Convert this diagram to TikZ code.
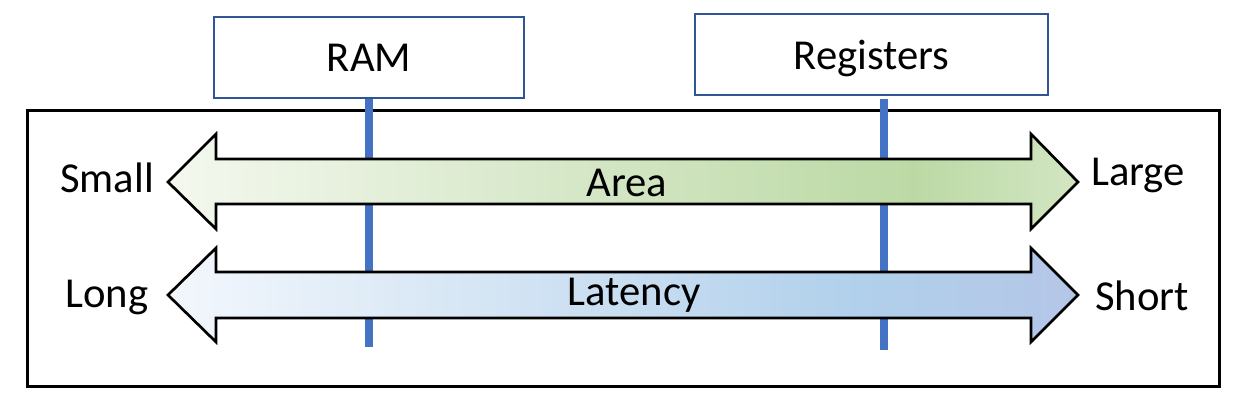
\documentclass[tikz,border=0pt]{standalone}
\usepackage{fontspec}
\setmainfont{Carlito}
\usetikzlibrary{positioning}
\definecolor{boxblue}{HTML}{2F5597}
\definecolor{lineblue}{HTML}{4472C4}
\definecolor{areaL}{HTML}{F4F8EF}
\definecolor{areaM}{HTML}{BCD9A5}
\definecolor{areaR}{HTML}{D2E6C2}
\definecolor{latL}{HTML}{F3F7FC}
\definecolor{latM}{HTML}{B1D0EB}
\definecolor{latR}{HTML}{B4C6E7}
\pgfdeclarehorizontalshading{areashade}{100bp}{color(0bp)=(areaL); color(25bp)=(areaL); color(66bp)=(areaM); color(75bp)=(areaR); color(100bp)=(areaR)}
\pgfdeclarehorizontalshading{latshade}{100bp}{color(0bp)=(latL); color(25bp)=(latL); color(63bp)=(latM); color(75bp)=(latR); color(100bp)=(latR)}
\tikzset{
    lbl/.style={font=\fontsize{32}{38}\selectfont, inner sep=0pt},
    membox/.style={draw=boxblue, line width=1.5pt, minimum height=61pt, lbl},
    marker/.style={draw=lineblue, line width=6pt},
    bigarrow/.style={draw=black, line width=2pt, line join=miter}
}
\begin{document}
\begin{tikzpicture}[x=0.75pt,y=-0.75pt]
    \useasboundingbox (0,0) rectangle (1248,416);
    \node[draw, line width=1.6pt, minimum width=894pt, minimum height=207pt, inner sep=0pt] (frame) at (623.5,248.5) {};
    \node[membox, minimum width=232pt] (ram) at (369,57.5) {RAM};
    \node[membox, minimum width=265pt, text depth=0pt] (reg) at (871.5,54.5) {Registers};
    \coordinate (ramend) at (369,347);
    \coordinate (regend) at (884,350);
    \draw[marker] (ram.south) -- (ramend);
    \draw[marker] (ram.south -| regend) -- (regend);
    % area arrow
    \path[bigarrow, shading=areashade]
        (168,182) -- (216,134) -- (216,159) -- (1031,159) -- (1031,134)
        -- (1078,182) -- (1031,229) -- (1031,204) -- (216,204) -- (216,229) -- cycle;
    % latency arrow
    \path[bigarrow, shading=latshade]
        (168,295) -- (216,248) -- (216,272) -- (1031,272) -- (1031,248)
        -- (1078,295) -- (1031,342) -- (1031,318) -- (216,318) -- (216,342) -- cycle;
    \node[lbl] (area) at (627,183) {Area};
    \node[lbl] (latency) at (634,295) {Latency};
    \node[lbl] (small) at (107,178) {Small};
    \node[lbl] (large) at (1138,175) {Large};
    \node[lbl] (long) at (107,297) {Long};
    \node[lbl] (short) at (1142,296) {Short};
\end{tikzpicture}
\end{document}
